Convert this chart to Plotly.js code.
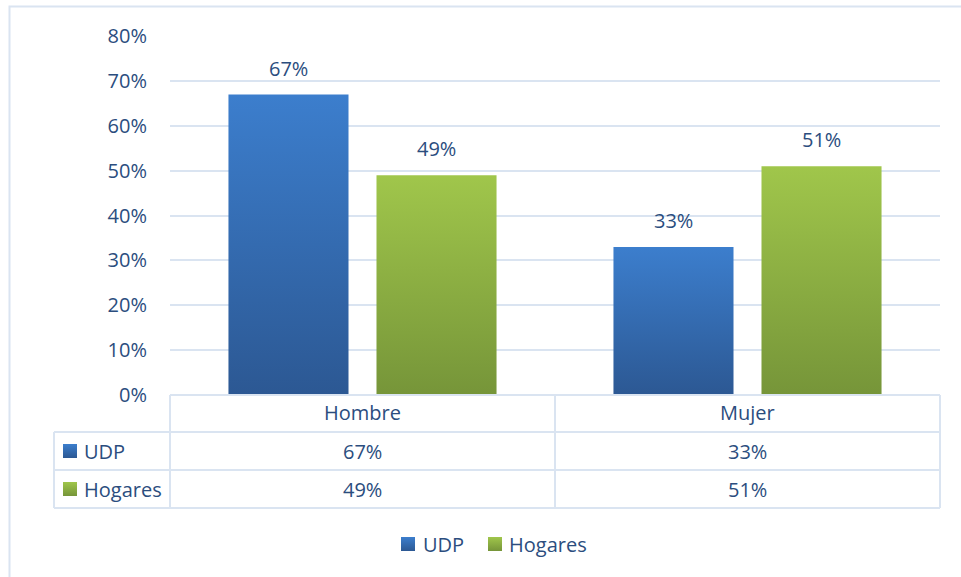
<!DOCTYPE html>
<html><head><meta charset="utf-8">
<script src="https://cdn.plot.ly/plotly-3.0.1.min.js"></script>
<style>body{margin:0;background:#fff}#chart{width:961px;height:577px}</style>
</head><body><div id="chart"></div>
<script>
const categories = ['Hombre', 'Mujer'];
const seriesNames = ['UDP', 'Hogares'];
const udpValues = [0.67, 0.33];
const hogaresValues = [0.49, 0.51];
const yTickVals = [0, 0.1, 0.2, 0.3, 0.4, 0.5, 0.6, 0.7, 0.8];
const yTickText = ['0%', '10%', '20%', '30%', '40%', '50%', '60%', '70%', '80%'];

const seriesValues = [udpValues, hogaresValues];
const baseColors = ['#3468b0', '#8cad43'];
const gradStops = [['#3c7ecd', '#2c5893'], ['#a0c64b', '#769539']];
const textColor = '#2b4d7e';
const lineColor = '#dae4f1';
const FONT = 'Open Sans, sans-serif';
const FS = 20;

// plot area in pixels
const W = 961, H = 577, L = 170, R = 940, T = 36, B = 395;
const X = px => (px - L) / (R - L);
const Y = py => (B - py) / (B - T);

const traces = seriesNames.map((name, i) => ({
  type: 'bar', name: name, x: categories, y: seriesValues[i],
  marker: {color: baseColors[i], line: {width: 0}},
  hoverinfo: 'skip'
}));

const shapes = [];
const annotations = [];
const line = (x0, y0, x1, y1) => shapes.push({type: 'line', xref: 'paper', yref: 'paper',
  x0: X(x0), y0: Y(y0), x1: X(x1), y1: Y(y1), line: {color: lineColor, width: 2}});
const label = (o) => annotations.push(Object.assign({showarrow: false, xanchor: 'center', yanchor: 'middle',
  font: {family: FONT, size: FS, color: textColor}}, o));

// outer chart frame
shapes.push({type: 'rect', xref: 'paper', yref: 'paper', x0: X(9.5), y0: Y(6.5), x1: X(970), y1: Y(590),
  line: {color: lineColor, width: 2}, fillcolor: 'rgba(0,0,0,0)', layer: 'below'});

// data table grid
const rowLines = [432, 470, 508];
line(L, B, R, B);
rowLines.forEach(y => line(54, y, R, y));
line(54, 432, 54, 508);
[L, (L + R) / 2, R].forEach(x => line(x, B, x, 508));

// header row: categories
categories.forEach(c => label({xref: 'x', yref: 'paper', x: c, y: Y(413), text: c}));

// value rows
const rowCenters = [451, 489];
seriesNames.forEach((name, i) => {
  const yc = rowCenters[i];
  shapes.push({type: 'rect', xref: 'paper', yref: 'paper', x0: X(63), x1: X(77), y0: Y(yc - 7), y1: Y(yc + 7),
    fillcolor: baseColors[i], line: {width: 0}});
  label({xref: 'paper', yref: 'paper', x: X(82), y: Y(yc), xanchor: 'left', text: name});
  categories.forEach((c, j) => label({xref: 'x', yref: 'paper', x: c, y: Y(yc),
    text: Math.round(seriesValues[i][j] * 100) + '%'}));
});

// data labels above bars
const shifts = [-74, 74];
seriesNames.forEach((name, i) => categories.forEach((c, j) => label({
  xref: 'x', yref: 'y', x: c, y: seriesValues[i][j], xshift: shifts[i], yshift: 11, yanchor: 'bottom',
  text: Math.round(seriesValues[i][j] * 100) + '%'})));

// bottom legend
const legendItems = [[401, 421], [488, 507]];
seriesNames.forEach((name, i) => {
  const [sx, tx] = legendItems[i];
  shapes.push({type: 'rect', xref: 'paper', yref: 'paper', x0: X(sx), x1: X(sx + 14), y0: Y(537), y1: Y(551),
    fillcolor: baseColors[i], line: {width: 0}});
  label({xref: 'paper', yref: 'paper', x: X(tx), y: Y(544), xanchor: 'left', text: name});
});

const layout = {
  width: W, height: H,
  margin: {l: L, r: W - R, t: T, b: H - B, pad: 0},
  paper_bgcolor: '#fff', plot_bgcolor: '#fff',
  barmode: 'group', bargap: 0.231, bargroupgap: 0.189,
  showlegend: false,
  font: {family: FONT, size: FS, color: textColor},
  xaxis: {range: [-0.5, 1.5], showticklabels: false, showgrid: false, zeroline: false, showline: false, fixedrange: true},
  yaxis: {range: [0, 0.8005], tickvals: yTickVals, ticktext: yTickText, showgrid: true, gridcolor: lineColor, gridwidth: 2,
    zeroline: false, showline: false, ticks: '', ticklabelstandoff: 22,
    tickfont: {family: FONT, size: FS, color: textColor}, fixedrange: true},
  shapes: shapes, annotations: annotations
};

Plotly.newPlot('chart', traces, layout, {displayModeBar: false, staticPlot: true}).then(gd => {
  const svg = gd.querySelector('svg.main-svg');
  const NS = 'http://www.w3.org/2000/svg';
  const defs = document.createElementNS(NS, 'defs');
  gradStops.forEach((stops, i) => {
    const g = document.createElementNS(NS, 'linearGradient');
    g.setAttribute('id', 'grad' + i);
    g.setAttribute('x1', '0'); g.setAttribute('y1', '0'); g.setAttribute('x2', '0'); g.setAttribute('y2', '1');
    stops.forEach((c, k) => {
      const s = document.createElementNS(NS, 'stop');
      s.setAttribute('offset', k ? '1' : '0');
      s.setAttribute('stop-color', c);
      g.appendChild(s);
    });
    defs.appendChild(g);
  });
  svg.insertBefore(defs, svg.firstChild);
  const toRgb = hex => 'rgb(' + [1, 3, 5].map(k => parseInt(hex.substr(k, 2), 16)).join(', ') + ')';
  const targets = baseColors.map(toRgb);
  gd.querySelectorAll('path').forEach(p => {
    const idx = targets.indexOf(p.style.fill);
    if (idx >= 0) p.style.fill = 'url(#grad' + idx + ')';
  });
});
</script>
</body></html>
